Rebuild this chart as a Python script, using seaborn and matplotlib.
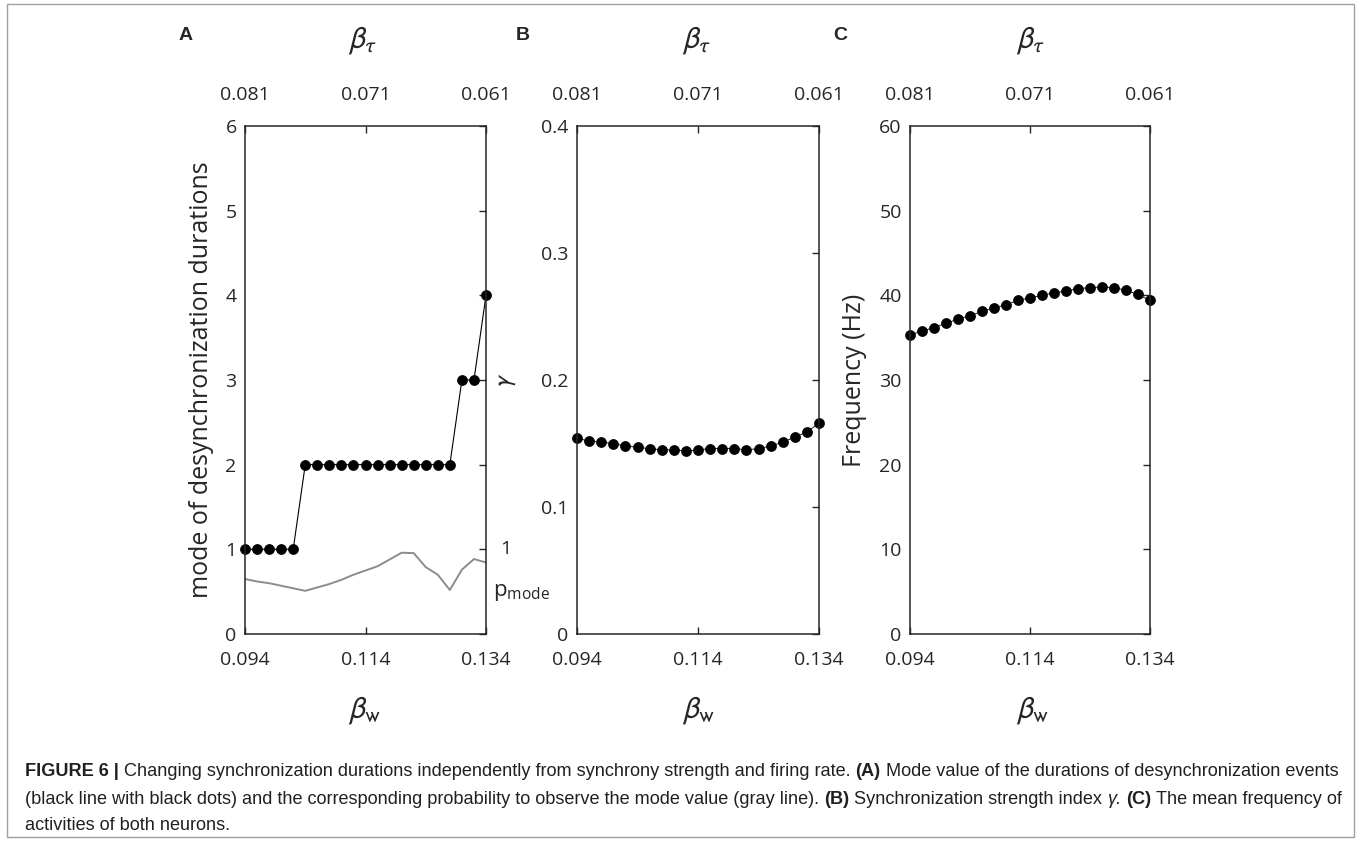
import matplotlib
matplotlib.use("Agg")
import matplotlib.pyplot as plt
import seaborn as sns
from matplotlib.patches import Rectangle

# data
beta_w = [0.094, 0.096, 0.098, 0.100, 0.102, 0.104, 0.106, 0.108, 0.110, 0.112, 0.114,
          0.116, 0.118, 0.120, 0.122, 0.124, 0.126, 0.128, 0.130, 0.132, 0.134]
beta_w_ticks = [0.094, 0.114, 0.134]
beta_w_labels = ["0.094", "0.114", "0.134"]
beta_tau_labels = ["0.081", "0.071", "0.061"]

mode_dur = [1, 1, 1, 1, 1, 2, 2, 2, 2, 2, 2, 2, 2, 2, 2, 2, 2, 2, 3, 3, 4]
p_mode = [0.65, 0.62, 0.60, 0.57, 0.54, 0.51, 0.55, 0.59, 0.64, 0.70, 0.75,
          0.80, 0.88, 0.96, 0.955, 0.79, 0.70, 0.52, 0.76, 0.885, 0.845]
gamma = [0.154, 0.152, 0.151, 0.150, 0.148, 0.147, 0.146, 0.145, 0.145, 0.144, 0.145,
         0.146, 0.146, 0.146, 0.145, 0.146, 0.148, 0.151, 0.155, 0.159, 0.166]
freq = [35.3, 35.8, 36.2, 36.7, 37.2, 37.6, 38.1, 38.5, 38.9, 39.4, 39.7,
        40.0, 40.3, 40.5, 40.8, 40.9, 41.0, 40.9, 40.6, 40.1, 39.4]

sns.set_style("white")
plt.rcParams["font.family"] = ["Open Sans", "DejaVu Sans"]
plt.rcParams["mathtext.fontset"] = "stixsans"

W, H = 1357, 841
fig = plt.figure(figsize=(W / 100, H / 100), dpi=100)
AX_COL = "#262626"
TICK_SIZE = 14


def add_panel(left, right, top=126, bottom=634):
    return fig.add_axes([left / W, 1 - bottom / H, (right - left) / W, (bottom - top) / H])


def style_panel(ax, ylim, yticks, ylabel, ylabel_x, ylabel_size=18):
    ax.set_xlim(0.094, 0.134)
    ax.set_ylim(*ylim)
    ax.set_xticks(beta_w_ticks)
    ax.set_xticklabels(beta_w_labels)
    ax.set_yticks(yticks)
    ax.set_xlabel("")
    ax.set_ylabel(ylabel, fontsize=ylabel_size, color=AX_COL)
    ax.yaxis.set_label_coords(ylabel_x, 0.5)
    ax.tick_params(direction="in", length=5, width=1, right=True, colors=AX_COL, labelsize=TICK_SIZE)
    ax.tick_params(axis="x", pad=12)
    ax.tick_params(axis="y", pad=6)
    for s in ax.spines.values():
        s.set_visible(True)
        s.set_color(AX_COL)
        s.set_linewidth(1.1)
    tw = ax.twiny()
    tw.set_xlim(ax.get_xlim())
    tw.set_xticks(beta_w_ticks)
    tw.set_xticklabels(beta_tau_labels)
    tw.tick_params(direction="in", length=5, width=1, colors=AX_COL, labelsize=TICK_SIZE, pad=16)
    for s in tw.spines.values():
        s.set_visible(False)


dot = dict(color="black", marker="o", markersize=7.2, markeredgecolor="black",
           markeredgewidth=0.5, clip_on=False)

# A
axA = add_panel(245, 486)
sns.lineplot(x=beta_w, y=p_mode, ax=axA, color="#8c8c8c", linewidth=1.4)
sns.lineplot(x=beta_w, y=mode_dur, ax=axA, linewidth=0.8, **dot)
style_panel(axA, (0, 6), range(0, 7), "mode of desynchronization durations", -0.13)
axA.text(1.06, 1, "1", transform=axA.get_yaxis_transform(), fontsize=TICK_SIZE,
         va="center", ha="left", color=AX_COL)
axA.text(1.03, 0.49, r"$\mathregular{p_{mode}}$", transform=axA.get_yaxis_transform(),
         fontsize=16, va="center", ha="left", color=AX_COL)

# B
axB = add_panel(577, 819)
sns.lineplot(x=beta_w, y=gamma, ax=axB, linewidth=0.6, **dot)
style_panel(axB, (0, 0.4), [0, 0.1, 0.2, 0.3, 0.4], r"$\gamma$", -0.245)
axB.set_yticklabels(["0", "0.1", "0.2", "0.3", "0.4"])

# C
axC = add_panel(910, 1150)
sns.lineplot(x=beta_w, y=freq, ax=axC, linewidth=0.6, **dot)
style_panel(axC, (0, 60), range(0, 70, 10), "Frequency (Hz)", -0.18)

# panel letters and beta labels
for letter, lx, bx in [("A", 186, 363), ("B", 523, 697), ("C", 840, 1031)]:
    fig.text(lx / W, 1 - 36 / H, letter, fontsize=14, fontweight="bold",
             family="Liberation Sans", ha="center", va="center")
    fig.text(bx / W, 1 - 40 / H, r"$\beta_\tau$", fontsize=22, ha="center", va="center",
             color=AX_COL)
    fig.text((bx + 2) / W, 1 - 710 / H, r"$\beta_{\mathrm{w}}$", fontsize=22, ha="center",
             va="center", color=AX_COL)

# caption
cap_lines = [
    [("FIGURE 6 |", "bold", "normal"),
     ("Changing synchronization durations independently from synchrony strength and firing rate.", "normal", "normal"),
     ("(A)", "bold", "normal"),
     ("Mode value of the durations of desynchronization events", "normal", "normal")],
    [("(black line with black dots) and the corresponding probability to observe the mode value (gray line).", "normal", "normal"),
     ("(B)", "bold", "normal"),
     ("Synchronization strength index", "normal", "normal"),
     ("γ.", "normal", "italic"),
     ("(C)", "bold", "normal"),
     ("The mean frequency of", "normal", "normal")],
    [("activities of both neurons.", "normal", "normal")],
]
cap_y = [771, 799, 826]
cap_size = 13.1
renderer = fig.canvas.get_renderer()
probe1 = fig.text(0, 0, "a a", fontsize=cap_size, family="Liberation Sans")
probe2 = fig.text(0, 0, "aa", fontsize=cap_size, family="Liberation Sans")
space_px = probe1.get_window_extent(renderer).width - probe2.get_window_extent(renderer).width
probe1.remove()
probe2.remove()
for pieces, y in zip(cap_lines, cap_y):
    x = 25
    for s, wgt, sty in pieces:
        t = fig.text(x / W, 1 - y / H, s, fontsize=cap_size, fontweight=wgt, fontstyle=sty,
                     family="Liberation Sans", va="center", ha="left", color="#231f20")
        x += t.get_window_extent(renderer).width + space_px

fig.patches.append(Rectangle((7 / W, 1 - 837 / H), (1354 - 7) / W, (837 - 4) / H,
                             transform=fig.transFigure, fill=False, edgecolor="#a0a0a0",
                             linewidth=1))

fig.savefig("out.png", dpi=100)
